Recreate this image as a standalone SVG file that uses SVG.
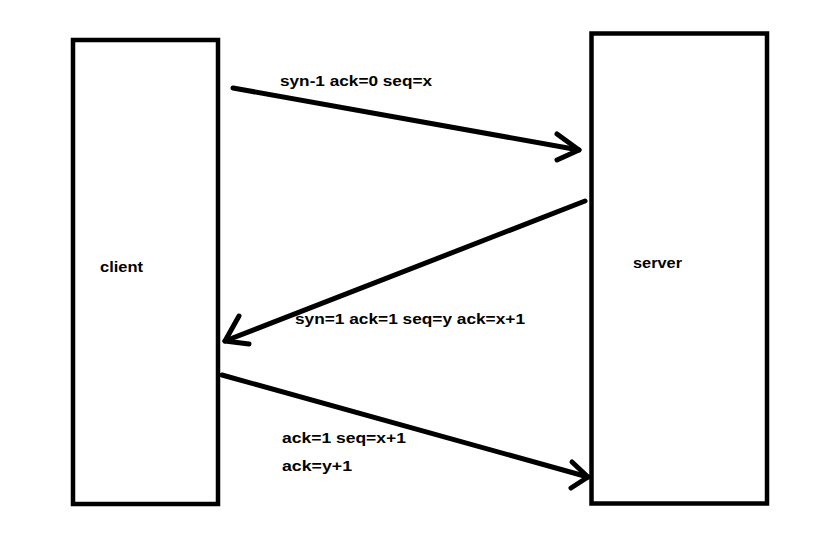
<svg xmlns="http://www.w3.org/2000/svg" width="839" height="542" viewBox="0 0 839 542">
<style>
.box{fill:#fff;stroke:#000;stroke-width:4.5}
.lbl{font-family:"Liberation Sans",Arial,sans-serif;font-weight:bold;font-size:15.5px;fill:#000}
.ln{fill:none;stroke:#000;stroke-width:5;stroke-linecap:round;stroke-linejoin:round}
</style>
<rect width="839" height="542" fill="#fff"/>
<g id="client">
<rect class="box" x="73" y="40" width="145" height="464"/>
<text class="lbl" x="100" y="272" textLength="43" lengthAdjust="spacingAndGlyphs">client</text>
</g>
<g id="server">
<rect class="box" x="591.5" y="33.5" width="175.5" height="470"/>
<text class="lbl" x="633" y="268" textLength="49" lengthAdjust="spacingAndGlyphs">server</text>
</g>
<g id="connectors">
<path class="ln" d="M233,88 L579,150"/>
<path class="ln" d="M557,134 L579,150 L557,160"/>
<path class="ln" d="M585,201 L225,341"/>
<path class="ln" d="M239,316 L225,341 L249,344"/>
<path class="ln" d="M222,375 L588,477"/>
<path class="ln" d="M572,462 L588,477 L571,488"/>
</g>
<g id="labels">
<text class="lbl" x="280" y="86" textLength="152" lengthAdjust="spacingAndGlyphs">syn-1 ack=0 seq=x</text>
<text class="lbl" x="295" y="324" textLength="230" lengthAdjust="spacingAndGlyphs">syn=1 ack=1 seq=y ack=x+1</text>
<text class="lbl" x="282" y="443" textLength="124" lengthAdjust="spacingAndGlyphs">ack=1 seq=x+1</text>
<text class="lbl" x="282" y="471" textLength="70" lengthAdjust="spacingAndGlyphs">ack=y+1</text>
</g>
</svg>
